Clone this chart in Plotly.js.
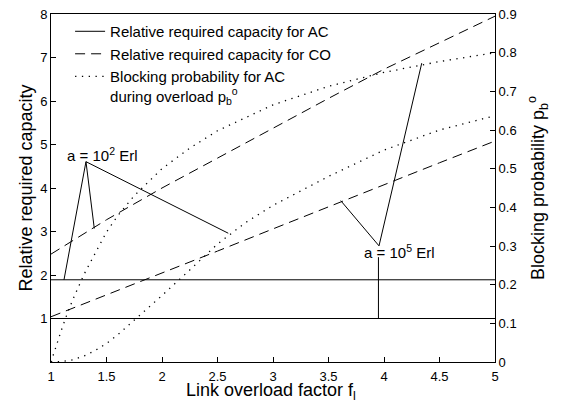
<!DOCTYPE html>
<html>
<head>
<meta charset="utf-8">
<script src="https://cdn.plot.ly/plotly-3.0.1.min.js"></script>
<style>html,body{margin:0;padding:0;background:#fff;}#chart{width:561px;height:402px;}</style>
</head>
<body>
<div id="chart"></div>
<script>
// Relative required capacity for AC (constant over overload factor)
var acX = [1, 5];
var acA100 = [1.89, 1.89];   // a = 10^2 Erl
var acA105 = [1.0, 1.0];     // a = 10^5 Erl

// Relative required capacity for CO
var coX = [1, 1.5, 2, 2.5, 3, 3.5, 4, 4.5, 5];
var coA100 = [2.48, 3.27, 4.0, 4.69, 5.38, 6.06, 6.73, 7.34, 7.95];
var coA105 = [1.04, 1.54, 2.05, 2.55, 3.06, 3.57, 4.08, 4.58, 5.08];

// Blocking probability for AC during overload (right axis)
var pbX105 = [1, 1.02, 1.05, 1.1, 1.15, 1.2, 1.3, 1.4, 1.5, 1.6, 1.75, 2, 2.25, 2.5, 3, 3.5, 4, 4.5, 5];
var pbA105 = [0.0, 0.018, 0.045, 0.088, 0.128, 0.164, 0.228, 0.284, 0.336, 0.378, 0.43, 0.5, 0.553, 0.598, 0.665, 0.713, 0.749, 0.777, 0.8];
var pbX100 = [1, 1.1, 1.2, 1.3, 1.4, 1.5, 1.6, 1.75, 2, 2.25, 2.5, 2.75, 3, 3.5, 4, 4.5, 5];
var pbA100 = [0, 0.001, 0.006, 0.016, 0.03, 0.048, 0.07, 0.108, 0.172, 0.238, 0.305, 0.36, 0.405, 0.48, 0.548, 0.6, 0.637];

var xTicks = [1, 1.5, 2, 2.5, 3, 3.5, 4, 4.5, 5];
var xTickText = ['1', '1.5', '2', '2.5', '3', '3.5', '4', '4.5', '5'];
var yTicks = [1, 2, 3, 4, 5, 6, 7, 8];
var y2Ticks = [0, 0.1, 0.2, 0.3, 0.4, 0.5, 0.6, 0.7, 0.8, 0.9];
var y2TickText = ['0', '0.1', '0.2', '0.3', '0.4', '0.5', '0.6', '0.7', '0.8', '0.9'];

var solid = {color: '#000', width: 1};
var dashed = {color: '#000', width: 1, dash: '10px,6px'};
var dotted = {color: '#000', width: 1.3, dash: '1.3px,5.5px'};

var traces = [
  {x: acX, y: acA100, mode: 'lines', line: solid, name: 'Relative required capacity for AC', showlegend: true},
  {x: coX, y: coA100, mode: 'lines', line: dashed, name: 'Relative required capacity for CO', showlegend: true},
  {x: pbX100, y: pbA100, yaxis: 'y2', mode: 'lines', line: dotted, name: 'Blocking probability for AC<br>during overload p<sub>b</sub><sup>o</sup>', showlegend: true},
  {x: acX, y: acA105, mode: 'lines', line: solid, showlegend: false},
  {x: coX, y: coA105, mode: 'lines', line: dashed, showlegend: false},
  {x: pbX105, y: pbA105, yaxis: 'y2', mode: 'lines', line: dotted, showlegend: false}
];

function seg(x0, y0, x1, y1) {
  return {type: 'line', xref: 'x', yref: 'y', x0: x0, y0: y0, x1: x1, y1: y1, line: {color: '#000', width: 1}};
}

var layout = {
  width: 561, height: 402,
  margin: {l: 51, r: 66, t: 14, b: 40},
  paper_bgcolor: '#fff', plot_bgcolor: '#fff',
  font: {family: 'Liberation Sans, Arial, sans-serif', color: '#000', size: 13},
  showlegend: true,
  legend: {x: 0.043, y: 0.997, xanchor: 'left', yanchor: 'top', bgcolor: 'rgba(0,0,0,0)', borderwidth: 0,
           font: {size: 15}, tracegroupgap: 0, valign: 'top'},
  xaxis: {range: [1, 5], tickvals: xTicks, ticktext: xTickText, ticks: 'inside', ticklen: 5, tickcolor: '#000',
          ticklabelstandoff: 2,
          showline: true, mirror: true, linecolor: '#000', linewidth: 1, showgrid: false, zeroline: false},
  yaxis: {range: [0, 8], tickvals: yTicks, ticks: 'inside', ticklen: 5, tickcolor: '#000',
          showline: true, mirror: true, linecolor: '#000', linewidth: 1, showgrid: false, zeroline: false,
          title: {text: 'Relative required capacity', font: {size: 18}, standoff: 2}},
  yaxis2: {overlaying: 'y', side: 'right', range: [0, 0.9], tickvals: y2Ticks, ticktext: y2TickText,
           ticks: 'inside', ticklen: 5, tickcolor: '#000', showline: true, linecolor: '#000', linewidth: 1,
           showgrid: false, zeroline: false,
           title: {text: 'Blocking probability p<sub>b</sub><sup>o</sup>', font: {size: 18}, standoff: 15}},
  shapes: [
    seg(1.315, 4.605, 1.117, 1.89),
    seg(1.315, 4.605, 1.39, 3.07),
    seg(1.315, 4.605, 2.597, 2.96),
    seg(3.955, 2.67, 4.34, 6.87),
    seg(3.955, 2.67, 3.61, 3.71),
    seg(3.95, 2.41, 3.95, 1.0)
  ],
  annotations: [
    {x: 0.495, y: -0.123, xref: 'paper', yref: 'paper', xanchor: 'center', yanchor: 'bottom', showarrow: false,
     text: 'Link overload factor f<sub>l</sub>', font: {size: 18}},
    {x: 1.126, y: 4.76, xref: 'x', yref: 'y', xanchor: 'left', yanchor: 'middle', showarrow: false,
     text: 'a = 10<sup>2</sup> Erl', font: {size: 15}},
    {x: 3.80, y: 2.55, xref: 'x', yref: 'y', xanchor: 'left', yanchor: 'middle', showarrow: false,
     text: 'a = 10<sup>5</sup> Erl', font: {size: 15}}
  ]
};

Plotly.newPlot('chart', traces, layout, {displayModeBar: false, staticPlot: true});
</script>
</body>
</html>
